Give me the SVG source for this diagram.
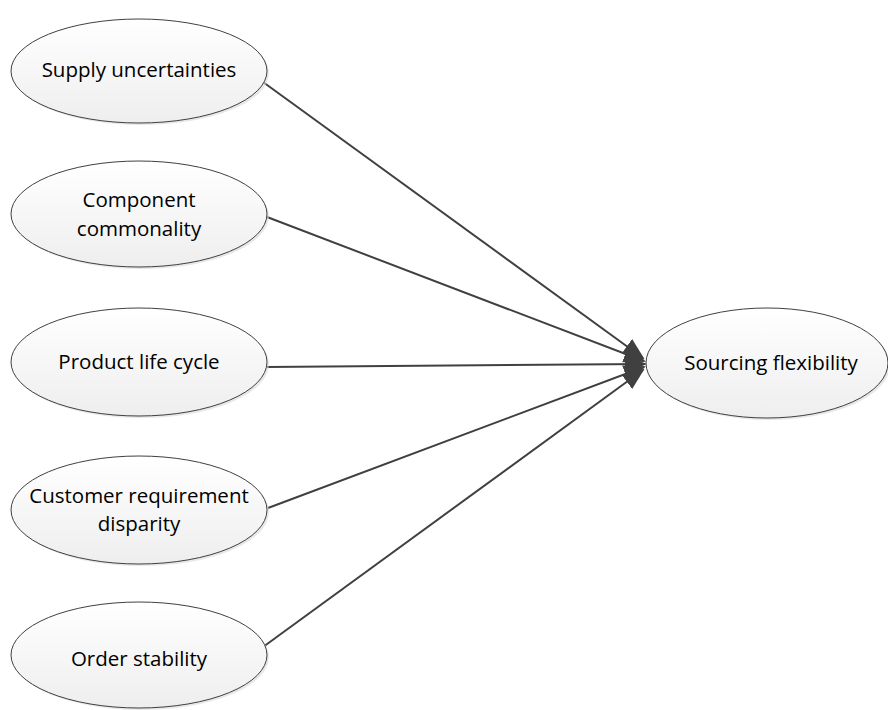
<svg xmlns="http://www.w3.org/2000/svg" width="888" height="710" viewBox="0 0 888 710">
  <style>
    .node ellipse.body { fill: url(#fillGrad); stroke: #404040; stroke-width: 1; }
    .node ellipse.shadow { fill: #d9d9d9; opacity: 0.6; }
    .node text { font-family: "Open Sans", "Liberation Sans", sans-serif; font-size: 20.5px; fill: #000; text-anchor: middle; }
    .edge { stroke: #404040; stroke-width: 2; fill: none; marker-end: url(#arrow); }
  </style>
  <defs>
    <linearGradient id="fillGrad" x1="0" y1="0" x2="0" y2="1">
      <stop offset="0" stop-color="#ffffff"/>
      <stop offset="1" stop-color="#eeeeee"/>
    </linearGradient>
    <marker id="arrow" markerWidth="11" markerHeight="9" refX="10" refY="4.5" orient="auto" markerUnits="strokeWidth">
      <path d="M0,0 L11,4.5 L0,9 Z" fill="#404040"/>
    </marker>
  </defs>
  <rect width="888" height="710" fill="#ffffff"/>

  <g id="connectors">
    <line class="edge" x1="263" y1="82" x2="643" y2="358"/>
    <line class="edge" x1="267" y1="217" x2="644" y2="361"/>
    <line class="edge" x1="267" y1="367" x2="645" y2="364"/>
    <line class="edge" x1="268" y1="508" x2="644" y2="367"/>
    <line class="edge" x1="263" y1="647" x2="643" y2="370"/>
  </g>

  <g id="supply-uncertainties" class="node">
    <ellipse class="shadow" cx="141" cy="73" rx="128" ry="52"/>
    <ellipse class="body" cx="139" cy="71" rx="128" ry="52"/>
    <text x="139" y="77">Supply uncertainties</text>
  </g>

  <g id="component-commonality" class="node">
    <ellipse class="shadow" cx="141" cy="216" rx="128" ry="53"/>
    <ellipse class="body" cx="139" cy="214" rx="128" ry="53"/>
    <text x="139" y="207">Component</text>
    <text x="139" y="236">commonality</text>
  </g>

  <g id="product-life-cycle" class="node">
    <ellipse class="shadow" cx="141" cy="364" rx="128" ry="54"/>
    <ellipse class="body" cx="139" cy="362" rx="128" ry="54"/>
    <text x="139" y="369">Product life cycle</text>
  </g>

  <g id="customer-requirement-disparity" class="node">
    <ellipse class="shadow" cx="141" cy="512" rx="128" ry="54"/>
    <ellipse class="body" cx="139" cy="510" rx="128" ry="54"/>
    <text x="139" y="503">Customer requirement</text>
    <text x="139" y="531">disparity</text>
  </g>

  <g id="order-stability" class="node">
    <ellipse class="shadow" cx="141" cy="657" rx="128" ry="53"/>
    <ellipse class="body" cx="139" cy="655" rx="128" ry="53"/>
    <text x="139" y="666">Order stability</text>
  </g>

  <g id="sourcing-flexibility" class="node">
    <ellipse class="shadow" cx="769" cy="365" rx="121" ry="55"/>
    <ellipse class="body" cx="767" cy="363" rx="121" ry="55"/>
    <text x="771" y="370">Sourcing flexibility</text>
  </g>
</svg>
